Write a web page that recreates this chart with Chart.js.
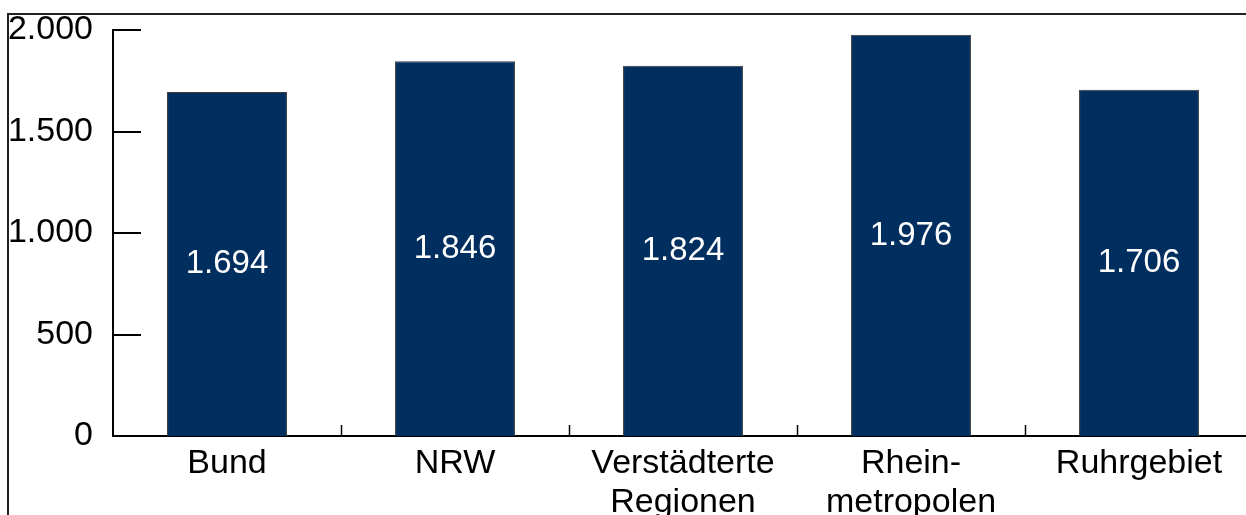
<!DOCTYPE html>
<html>
<head>
<meta charset="utf-8">
<style>
  html, body { margin: 0; padding: 0; overflow: hidden; background: #fff; }
  #chart { display: block; }
</style>
</head>
<body>
<canvas id="chart" width="1262" height="515"></canvas>
<script src="https://cdn.jsdelivr.net/npm/chart.js"></script>
<script>
var categories = [['Bund'], ['NRW'], ['Verstädterte', 'Regionen'], ['Rhein-', 'metropolen'], ['Ruhrgebiet']];
var values = [1694, 1846, 1824, 1976, 1706];
var yTicks = [0, 500, 1000, 1500, 2000];

var FONT = "'Liberation Sans', Arial, sans-serif";

function fmt(v) {
    return String(v).replace(/\B(?=(\d{3})+(?!\d))/g, '.');
}

// frame, inward ticks and value labels
var extras = {
    id: 'extras',
    beforeDraw: function (chart) {
        var ctx = chart.ctx;
        ctx.save();
        ctx.strokeStyle = '#222';
        ctx.lineWidth = 2;
        ctx.beginPath();
        ctx.moveTo(8, 515);
        ctx.lineTo(8, 14);
        ctx.lineTo(chart.width, 14);
        ctx.stroke();
        ctx.restore();
    },
    afterDraw: function (chart) {
        var ctx = chart.ctx;
        var x = chart.scales.x, y = chart.scales.y;
        var area = chart.chartArea;
        ctx.save();
        ctx.strokeStyle = '#000';
        ctx.lineWidth = 2;
        ctx.beginPath();
        yTicks.forEach(function (t) {
            var py = Math.round(y.getPixelForValue(t));
            ctx.moveTo(area.left, py);
            ctx.lineTo(area.left + 28, py);
        });
        ctx.stroke();
        ctx.lineWidth = 1.5;
        ctx.beginPath();
        for (var i = 1; i < categories.length; i++) {
            var px = Math.round((x.getPixelForValue(i - 1) + x.getPixelForValue(i)) / 2) + 0.5;
            ctx.moveTo(px, area.bottom);
            ctx.lineTo(px, area.bottom - 11);
        }
        ctx.stroke();

        ctx.fillStyle = '#fff';
        ctx.font = '33px ' + FONT;
        ctx.textAlign = 'center';
        ctx.textBaseline = 'middle';
        chart.getDatasetMeta(0).data.forEach(function (bar, i) {
            ctx.fillText(fmt(values[i]), bar.x, (bar.y + bar.base) / 2);
        });
        ctx.restore();
    }
};

new Chart(document.getElementById('chart').getContext('2d'), {
    type: 'bar',
    data: {
        labels: categories,
        datasets: [{
            data: values,
            backgroundColor: '#002f5f',
            borderColor: '#3a3a3a',
            borderWidth: 1,
            barPercentage: 0.526,
            categoryPercentage: 1
        }]
    },
    options: {
        responsive: false,
        animation: false,
        layout: { padding: { top: 30, right: 9, bottom: 0, left: 0 } },
        plugins: { legend: { display: false }, tooltip: { enabled: false } },
        scales: {
            x: {
                offset: true,
                grid: { display: false, drawTicks: false },
                border: { display: true, color: '#000', width: 2 },
                ticks: {
                    color: '#000',
                    padding: 8,
                    maxRotation: 0,
                    autoSkip: false,
                    font: { family: FONT, size: 34, lineHeight: 1.15 }
                },
                afterFit: function (s) { s.height = 79; }
            },
            y: {
                min: 0,
                max: 2000,
                afterBuildTicks: function (s) {
                    s.ticks = yTicks.map(function (v) { return { value: v }; });
                },
                grid: { display: false, drawTicks: false },
                border: { display: true, color: '#000', width: 2 },
                ticks: {
                    color: '#000',
                    padding: 20,
                    font: { family: FONT, size: 34, lineHeight: 0.5 },
                    callback: function (v) { return fmt(v); }
                },
                afterFit: function (s) {
                    s.width = 113;
                    s.paddingTop = 0;
                    s.paddingBottom = 0;
                }
            }
        }
    },
    plugins: [extras]
});
</script>
</body>
</html>
